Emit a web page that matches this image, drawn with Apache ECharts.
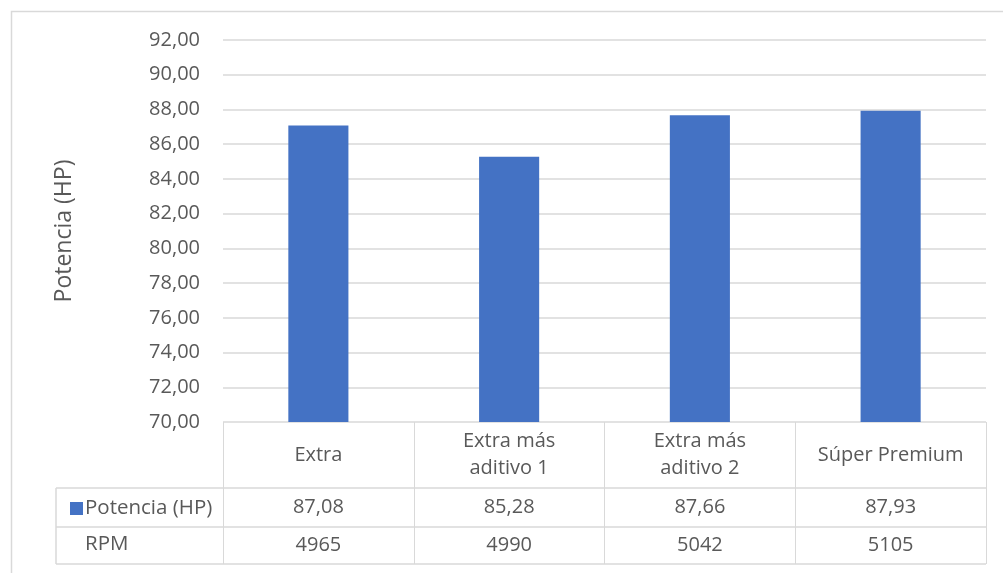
<!DOCTYPE html>
<html>
<head>
<meta charset="utf-8">
<script src="https://cdn.jsdelivr.net/npm/echarts@6/dist/echarts.min.js"></script>
<style>
  html, body { margin: 0; padding: 0; background: #ffffff; }
  #chart { width: 1003px; height: 573px; }
</style>
</head>
<body>
<div id="chart"></div>
<script>
// Fuel types tested, with power output and engine speed for each
const categories = ['Extra', 'Extra más\naditivo 1', 'Extra más\naditivo 2', 'Súper Premium'];
const potenciaHP = [87.08, 85.28, 87.66, 87.93];
const rpm = [4965, 4990, 5042, 5105];
const seriesName = 'Potencia (HP)';
const rpmLabel = 'RPM';

const FONT = '"Open Sans", "Noto Sans", sans-serif';
const TEXT = '#595959';
const LINE = '#d9d9d9';

const fmt = v => Number(v).toFixed(2).replace('.', ',');

const chart = echarts.init(document.getElementById('chart'), null, { renderer: 'canvas' });

// Data-table rows hang off three category axes sharing the grid's bottom edge
function tableAxis(labels, margin, extra) {
  return Object.assign({
    type: 'category',
    gridIndex: 0,
    position: 'bottom',
    data: categories,
    boundaryGap: true,
    axisLine: { show: false },
    axisTick: { show: false },
    splitLine: { show: false },
    axisLabel: {
      interval: 0,
      margin: margin,
      verticalAlign: 'middle',
      color: TEXT,
      fontFamily: FONT,
      fontSize: 20,
      lineHeight: 27,
      formatter: (v, i) => labels[i]
    }
  }, extra || {});
}

chart.setOption({
  animation: false,
  backgroundColor: '#ffffff',
  textStyle: { fontFamily: FONT },
  grid: { left: 223, right: 17, top: 40, bottom: 151, containLabel: false },
  legend: {
    left: 65,
    top: 493,
    icon: 'rect',
    itemWidth: 13,
    itemHeight: 13,
    itemGap: 5,
    selectedMode: false,
    data: [seriesName],
    textStyle: { color: TEXT, fontFamily: FONT, fontSize: 20.5, padding: [0, 0, 0, -3] }
  },
  xAxis: [
    tableAxis(categories, 33, {
      axisTick: { show: true, length: 142, lineStyle: { color: LINE, width: 1 } }
    }),
    tableAxis(potenciaHP.map(fmt), 85.5),
    tableAxis(rpm.map(String), 123.5)
  ],
  yAxis: {
    type: 'value',
    min: 70,
    max: 92,
    interval: 2,
    name: seriesName,
    nameLocation: 'middle',
    nameGap: 147,
    nameTextStyle: { color: TEXT, fontFamily: FONT, fontSize: 23 },
    axisLine: { show: false },
    axisTick: { show: false },
    axisLabel: {
      margin: 23,
      color: TEXT,
      fontFamily: FONT,
      fontSize: 20,
      formatter: fmt
    },
    splitLine: { lineStyle: { color: LINE, width: 1.5 } }
  },
  series: [{
    name: seriesName,
    type: 'bar',
    xAxisIndex: 0,
    data: potenciaHP,
    barWidth: '31.5%',
    itemStyle: { color: '#4472c4' }
  }],
  graphic: [
    // chart frame
    { type: 'rect', silent: true, shape: { x: 11.5, y: 11.5, width: 1100, height: 700 },
      style: { fill: 'none', stroke: LINE, lineWidth: 1.5 } },
    // data table: row separators and header column edge
    { type: 'line', silent: true, shape: { x1: 56, y1: 488, x2: 986, y2: 488 }, style: { stroke: LINE, lineWidth: 1.5 } },
    { type: 'line', silent: true, shape: { x1: 56, y1: 527, x2: 986, y2: 527 }, style: { stroke: LINE, lineWidth: 1.5 } },
    { type: 'line', silent: true, shape: { x1: 56, y1: 564, x2: 986, y2: 564 }, style: { stroke: LINE, lineWidth: 1.5 } },
    { type: 'line', silent: true, shape: { x1: 56, y1: 488, x2: 56, y2: 564 }, style: { stroke: LINE, lineWidth: 1.5 } },
    { type: 'text', silent: true, left: 85, top: 534,
      style: { text: rpmLabel, fill: TEXT, font: '20.5px ' + FONT } }
  ]
});
</script>
</body>
</html>
